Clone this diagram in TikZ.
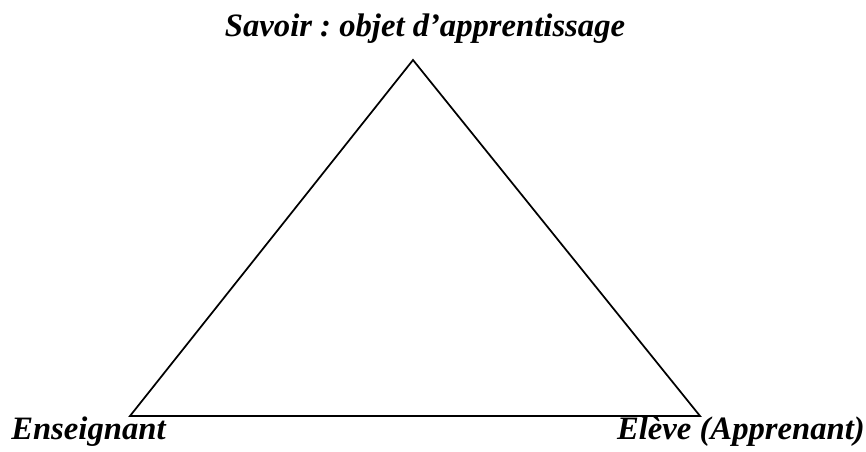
\documentclass[tikz,border=0pt]{standalone}
\usepackage{fontspec}
\setmainfont{Liberation Serif}
\usepackage{tikz}
\usetikzlibrary{positioning}
\frenchspacing

\begin{document}
\begin{tikzpicture}[
    x=0.75pt, y=-0.75pt,
    lbl/.style={inner sep=0pt, font=\fontsize{24.5}{28}\selectfont\bfseries\itshape},
    side/.style={line width=1.3pt, line join=miter}
]
\useasboundingbox (0,0) rectangle (866,452);

% Corners of the triangle
\coordinate (sav) at (413,60);
\coordinate (ens) at (130,416);
\coordinate (ele) at (700,416);

% Triangle
\draw[side] (sav) -- (ens) -- (ele) -- cycle;

% Labels
\node[lbl, anchor=base] (savlbl) at (425,37) {Savoir : objet d’apprentissage};
\node[lbl, anchor=base west] (enslbl) at (11,439) {Enseignant};
\node[lbl, anchor=base east] (elelbl) at (865,439) {Elève (Apprenant)};

\end{tikzpicture}
\end{document}
